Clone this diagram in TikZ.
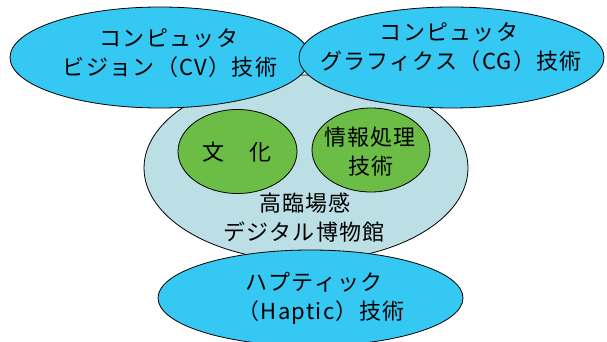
\documentclass[tikz,border=0pt]{standalone}
\usepackage{fontspec}
\setmainfont{Noto Sans CJK JP}[LetterSpace=6]
\usetikzlibrary{shapes.geometric}
\definecolor{skyblue}{RGB}{53,200,242}
\definecolor{paleblue}{RGB}{187,223,228}
\definecolor{leafgreen}{RGB}{108,189,70}
\tikzset{
  oval/.style={ellipse, draw=black, line width=0.8pt, inner sep=0pt},
  txt/.style={anchor=base, inner sep=0pt, font=\fontsize{22}{27}\selectfont},
}
\begin{document}
\begin{tikzpicture}[x=1pt,y=-1pt]
\useasboundingbox (0,0) rectangle (607,342);
% big pale ellipse
\node[oval, fill=paleblue, minimum width=324pt, minimum height=186pt] (museum) at (306,168) {};
% green inner ellipses
\node[oval, fill=leafgreen, minimum width=119pt, minimum height=84pt] (culture) at (237.5,151.5) {};
\node[oval, fill=leafgreen, minimum width=118pt, minimum height=84pt] (info) at (371,150) {};
% top ellipses
\node[oval, fill=skyblue, minimum width=300pt, minimum height=101pt] (cv) at (160,57.5) {};
\node[oval, fill=skyblue, minimum width=305pt, minimum height=101pt] (cg) at (451.5,57.5) {};
% bottom ellipse
\node[oval, fill=skyblue, minimum width=305pt, minimum height=96pt] (haptic) at (310.5,298) {};
% texts
\node[txt] (cv1) at (169,46.5) {コンピュッタ};
\node[txt] (cv2) at (170,75.5) {ビジョン（CV）技術};
\node[txt] (cg1) at (449,40.5) {コンピュッタ};
\node[txt] (cg2) at (451,69.5) {グラフィクス（CG）技術};
\node[txt] (cu) at (237,160.5) {文　化};
\node[txt] (in1) at (370,145.5) {情報処理};
\node[txt] (in2) at (371,174.5) {技術};
\node[txt] (mu1) at (305,211.5) {高臨場感};
\node[txt] (mu2) at (304,240.5) {デジタル博物館};
\node[txt] (ha1) at (314,290.5) {ハプティック};
\node[txt] (ha2) at (321,319.5) {（Haptic）技術};
\end{tikzpicture}
\end{document}
